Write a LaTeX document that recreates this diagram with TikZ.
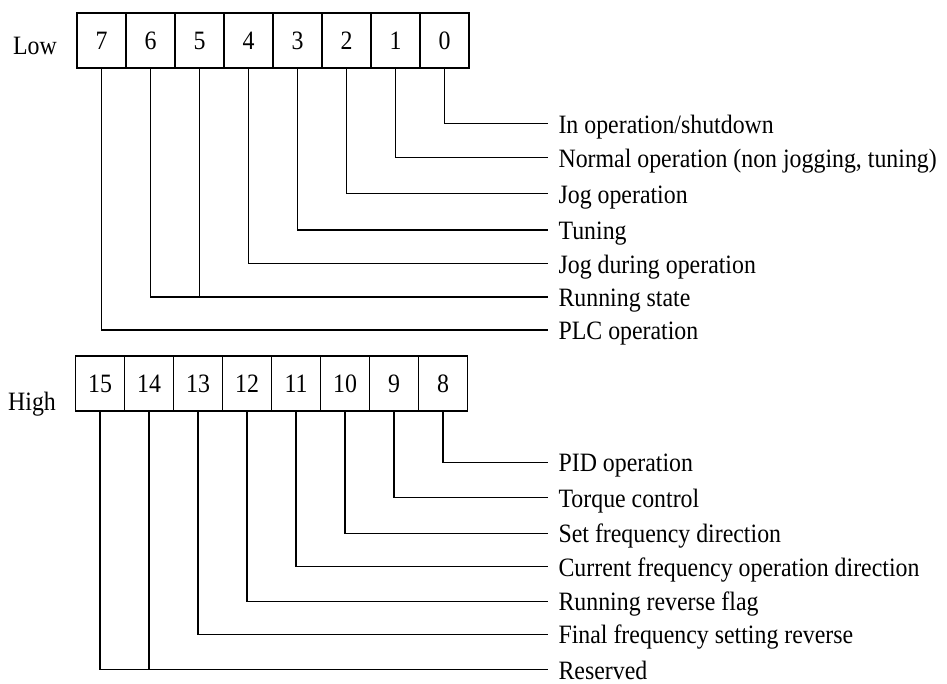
\documentclass[tikz,border=0pt]{standalone}
\usepackage{fontspec}
\setmainfont[FakeStretch=0.9]{Liberation Serif}
\usetikzlibrary{positioning}

\begin{document}
\begin{tikzpicture}[x=1pt, y=-1pt, line width=1.1pt,
        font=\fontsize{26.5}{30}\selectfont,
        bitbox/.style={draw, rectangle, minimum width=49pt, minimum height=55pt, inner sep=0pt, outer sep=0pt},
        flag/.style={anchor=west, inner xsep=10pt, inner ysep=0pt, text height=19pt, text depth=0pt}]
        \useasboundingbox (0,0) rectangle (947,684);

        % low byte
        \node[anchor=base] (low) at (35,55) {Low};
        \node[bitbox] (b7) at (101.5,40.5) {7};
        \node[bitbox, right=0pt of b7] (b6) {6};
        \node[bitbox, right=0pt of b6] (b5) {5};
        \node[bitbox, right=0pt of b5] (b4) {4};
        \node[bitbox, right=0pt of b4] (b3) {3};
        \node[bitbox, right=0pt of b3] (b2) {2};
        \node[bitbox, right=0pt of b2] (b1) {1};
        \node[bitbox, right=0pt of b1] (b0) {0};

        \node[flag] (f0) at (548,123.7) {In operation/shutdown};
        \node[flag] (f1) at (548,157.7) {Normal operation (non jogging, tuning)};
        \node[flag] (f2) at (548,193.7) {Jog operation};
        \node[flag] (f3) at (548,230) {Tuning};
        \node[flag] (f4) at (548,263.7) {Jog during operation};
        \node[flag] (f56) at (548,297) {Running state};
        \node[flag] (f7) at (548,330) {PLC operation};

        \draw (b0.south) |- (f0.west);
        \draw (b1.south) |- (f1.west);
        \draw (b2.south) |- (f2.west);
        \draw (b3.south) |- (f3.west);
        \draw (b4.south) |- (f4.west);
        \draw (b6.south) |- (f56.west);
        \draw (b5.south) -- (b5.south |- f56.west);
        \draw (b7.south) |- (f7.west);

        % high byte
        \node[anchor=base] (high) at (32,410.5) {High};
        \node[bitbox] (b15) at (100,383.5) {15};
        \node[bitbox, right=0pt of b15] (b14) {14};
        \node[bitbox, right=0pt of b14] (b13) {13};
        \node[bitbox, right=0pt of b13] (b12) {12};
        \node[bitbox, right=0pt of b12] (b11) {11};
        \node[bitbox, right=0pt of b11] (b10) {10};
        \node[bitbox, right=0pt of b10] (b9) {9};
        \node[bitbox, right=0pt of b9] (b8) {8};

        \node[flag] (f8) at (548,462.3) {PID operation};
        \node[flag] (f9) at (548,497.7) {Torque control};
        \node[flag] (f10) at (548,533.3) {Set frequency direction};
        \node[flag] (f11) at (548,566.7) {Current frequency operation direction};
        \node[flag] (f12) at (548,601.3) {Running reverse flag};
        \node[flag] (f13) at (548,634.3) {Final frequency setting reverse};
        \node[flag] (f1415) at (548,669.5) {Reserved};

        \draw (b8.south) |- (f8.west);
        \draw (b9.south) |- (f9.west);
        \draw (b10.south) |- (f10.west);
        \draw (b11.south) |- (f11.west);
        \draw (b12.south) |- (f12.west);
        \draw (b13.south) |- (f13.west);
        \draw (b15.south) |- (f1415.west);
        \draw (b14.south) -- (b14.south |- f1415.west);
    \end{tikzpicture}
\end{document}
